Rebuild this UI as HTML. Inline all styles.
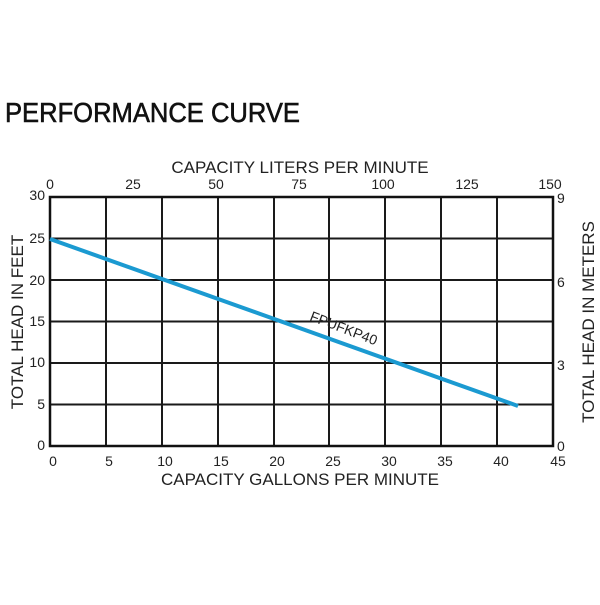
<!DOCTYPE html>
<html><head><style>html,body{margin:0;padding:0;background:#fff}</style></head>
<body>
<svg width="600" height="600" xmlns="http://www.w3.org/2000/svg" font-family="Liberation Sans, sans-serif" fill="#222">
<text x="5" y="122" font-size="28" textLength="295" lengthAdjust="spacingAndGlyphs" fill="#111" stroke="#111" stroke-width="0.6">PERFORMANCE CURVE</text>
<g stroke="#1a1a1a" stroke-width="2">
<line x1="106" y1="197" x2="106" y2="446"/><line x1="162" y1="197" x2="162" y2="446"/>
<line x1="218" y1="197" x2="218" y2="446"/><line x1="274" y1="197" x2="274" y2="446"/>
<line x1="329" y1="197" x2="329" y2="446"/><line x1="385" y1="197" x2="385" y2="446"/>
<line x1="441" y1="197" x2="441" y2="446"/><line x1="497" y1="197" x2="497" y2="446"/>
<line x1="50" y1="238.5" x2="553" y2="238.5"/><line x1="50" y1="280" x2="553" y2="280"/>
<line x1="50" y1="321.5" x2="553" y2="321.5"/><line x1="50" y1="363" x2="553" y2="363"/>
<line x1="50" y1="404.5" x2="553" y2="404.5"/>
</g>
<rect x="50" y="197" width="503" height="249" fill="none" stroke="#111" stroke-width="2.5"/>
<line x1="50" y1="239" x2="518" y2="406" stroke="#1b9ad1" stroke-width="4"/>
<text x="0" y="0" font-size="14" transform="translate(309,320) rotate(21)" fill="#222">FPUFKP40</text>
<text x="300" y="173" font-size="17" text-anchor="middle">CAPACITY LITERS PER MINUTE</text>
<g font-size="14" text-anchor="middle">
<text x="50" y="189">0</text><text x="133" y="189">25</text><text x="216" y="189">50</text>
<text x="299" y="189">75</text><text x="383" y="189">100</text><text x="467" y="189">125</text><text x="550" y="189">150</text>
<text x="53" y="466">0</text><text x="109" y="466">5</text><text x="165" y="466">10</text><text x="221" y="466">15</text>
<text x="277" y="466">20</text><text x="333" y="466">25</text><text x="389" y="466">30</text><text x="445" y="466">35</text>
<text x="501" y="466">40</text><text x="558" y="466">45</text>
</g>
<text x="300" y="485" font-size="17" text-anchor="middle">CAPACITY GALLONS PER MINUTE</text>
<g font-size="14" text-anchor="end">
<text x="45" y="200">30</text><text x="45" y="243">25</text><text x="45" y="285">20</text>
<text x="45" y="326">15</text><text x="45" y="367">10</text><text x="45" y="409">5</text><text x="45" y="450">0</text>
</g>
<g font-size="14">
<text x="557" y="203">9</text><text x="557" y="287">6</text><text x="557" y="370">3</text><text x="557" y="451">0</text>
</g>
<text font-size="17" text-anchor="middle" transform="translate(23,322) rotate(-90)">TOTAL HEAD IN FEET</text>
<text font-size="17" text-anchor="middle" transform="translate(594,322) rotate(-90)">TOTAL HEAD IN METERS</text>
</svg>
</body></html>
